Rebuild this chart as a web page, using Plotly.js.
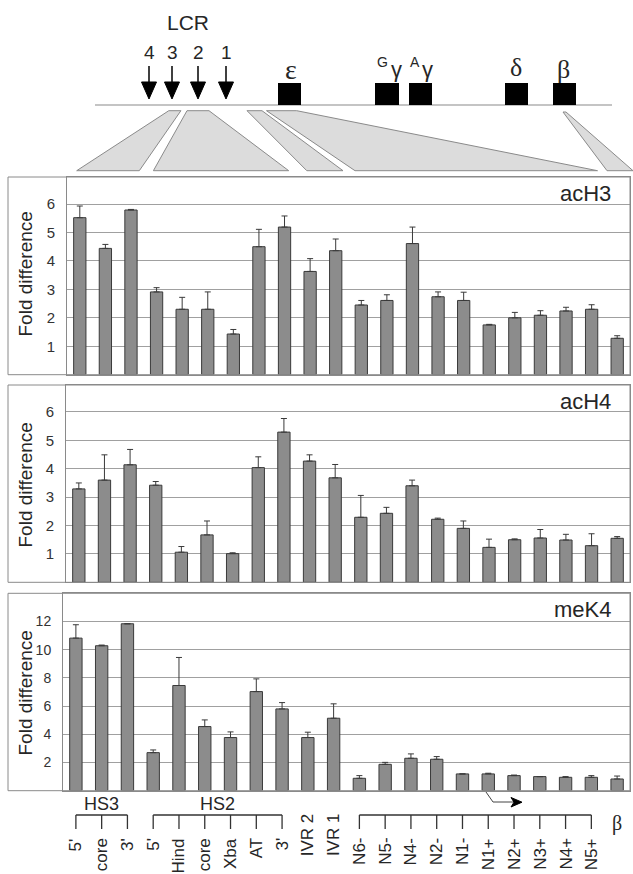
<!DOCTYPE html>
<html><head><meta charset="utf-8">
<script src="https://cdn.plot.ly/plotly-3.0.1.min.js"></script>
<style>html,body{margin:0;padding:0;background:#fff}</style>
</head><body>
<div id="chart" style="width:633px;height:874px"></div>
<script>
// ---------- data ----------
const categories = ["5'","core","3'","5'","Hind","core","Xba","AT","3'","IVR 2","IVR 1","N6-","N5-","N4-","N2-","N1-","N1+","N2+","N3+","N4+","N5+","β"];
const acH3    = [5.52,4.44,5.79,2.91,2.30,2.30,1.43,4.50,5.19,3.63,4.36,2.45,2.61,4.61,2.74,2.61,1.75,2.00,2.09,2.24,2.30,1.28];
const acH3err = [0.41,0.14,0.02,0.15,0.42,0.61,0.16,0.61,0.39,0.45,0.41,0.16,0.20,0.58,0.17,0.29,0.02,0.19,0.16,0.13,0.16,0.09];
const acH4    = [3.29,3.60,4.14,3.42,1.06,1.67,1.01,4.04,5.29,4.27,3.68,2.29,2.43,3.40,2.22,1.90,1.23,1.50,1.56,1.49,1.29,1.55];
const acH4err = [0.21,0.89,0.54,0.13,0.20,0.49,0.03,0.38,0.48,0.22,0.47,0.77,0.21,0.20,0.04,0.26,0.29,0.03,0.30,0.20,0.42,0.06];
const meK4    = [10.82,10.28,11.84,2.70,7.46,4.55,3.77,7.03,5.80,3.77,5.14,0.88,1.87,2.30,2.23,1.19,1.19,1.07,1.00,0.95,0.95,0.83];
const meK4err = [0.95,0.05,0.00,0.19,1.99,0.47,0.40,0.90,0.45,0.38,1.02,0.19,0.14,0.31,0.19,0.00,0.05,0.04,0.00,0.05,0.12,0.21];
const panelNames = ["acH3","acH4","meK4"];
const yTitle = "Fold difference";
const ticksSmall = [1,2,3,4,5,6];
const ticksLarge = [2,4,6,8,10,12];
const groups = [{name:"HS3", from:0, to:2},{name:"HS2", from:3, to:8},{name:"", from:11, to:20}];
const lcrSites = ["4","3","2","1"];

// ---------- helpers ----------
const W = 633, H = 874;
const px = x => x / W;
const py = y => 1 - y / H;
const idx = categories.map((_, i) => i);
const zeros = categories.map(() => 0);
const FONT = "Liberation Sans, Arial, sans-serif";
const SERIF = "Liberation Serif, Times New Roman, serif";
const TXT = "#262626";

function barTrace(vals, errs, xa, ya) {
  return {
    type: "bar", x: idx, y: vals, xaxis: xa, yaxis: ya,
    marker: {color: "#8c8c8c", line: {color: "#3a3a3a", width: 1}},
    error_y: {type: "data", symmetric: false, array: errs, arrayminus: zeros,
              color: "#3a3a3a", thickness: 1, width: 3},
    hoverinfo: "skip"
  };
}
const data = [
  barTrace(acH3, acH3err, "x", "y"),
  barTrace(acH4, acH4err, "x2", "y2"),
  barTrace(meK4, meK4err, "x3", "y3")
];

// panel pixel boxes [top, bottom, plotLeft, tickFontSize, titleCenterY]
const panels = [[177, 374.7, 67, 15, 274.5], [385, 582.3, 66, 15, 485.5], [593.3, 790.7, 63, 14, 693.5]];

function xax(p) {
  return {
    domain: [px(p[2]), px(630)], range: [-0.5, 21.5],
    showline: true, linecolor: "#8a8a8a", linewidth: 1, mirror: true,
    showgrid: false, zeroline: false, fixedrange: true,
    showticklabels: false, ticks: ""
  };
}
function yax(p, range, tv, anchor) {
  return {
    domain: [py(p[1]), py(p[0])], range: range, anchor: anchor,
    tickmode: "array", tickvals: tv,
    showline: true, linecolor: "#8a8a8a", linewidth: 1, mirror: true,
    showgrid: true, gridcolor: "#a0a0a0", gridwidth: 1, zeroline: false,
    ticks: "outside", ticklen: 8, tickcolor: "rgba(0,0,0,0)",
    tickfont: {family: FONT, size: p[3], color: "#333"},
    fixedrange: true
  };
}

const shapes = [];
const annotations = [];
function ann(o) {
  annotations.push(Object.assign({xref: "paper", yref: "paper", showarrow: false,
                                  xanchor: "center", yanchor: "middle"}, o));
}

// outer panel frames, panel labels, y titles
panels.forEach((p, k) => {
  shapes.push({type: "rect", xref: "paper", yref: "paper", x0: px(8), x1: px(630), y0: py(p[1]), y1: py(p[0]),
               line: {color: "#8a8a8a", width: 1}});
  ann({x: px(613), y: py(p[0] + 16), xanchor: "right", text: panelNames[k],
       font: {family: FONT, size: 22, color: TXT}});
  ann({x: px(25), y: py(p[4]), text: yTitle, textangle: -90,
       font: {family: FONT, size: 19, color: TXT}});
});

// ---------- genome diagram on top ----------
function poly(pts, fill, line) {
  const d = pts.map((q, i) => (i ? "L" : "M") + px(q[0]).toFixed(5) + "," + py(q[1]).toFixed(5)).join(" ") + " Z";
  shapes.push({type: "path", xref: "paper", yref: "paper", path: d, fillcolor: fill,
               line: {color: line, width: 1}, layer: "above"});
}
shapes.push({type: "line", xref: "paper", yref: "paper", x0: px(95), x1: px(612), y0: py(105), y1: py(105),
             line: {color: "#8a8a8a", width: 1.2}});
poly([[168.8,110.7],[180.9,110.7],[139.3,170.7],[76.7,170.7]], "#dcdcdc", "#8a8a8a");
poly([[187,110.7],[209,110.7],[288.7,170.7],[153.4,170.7]], "#dcdcdc", "#8a8a8a");
poly([[247,110.7],[262,110.7],[343,170.7],[306.8,170.7]], "#dcdcdc", "#8a8a8a");
poly([[266.5,110.7],[296.7,110.7],[597.5,170.7],[355,170.7]], "#dcdcdc", "#8a8a8a");
poly([[563,112],[566,112],[633,170.7],[607,170.7]], "#dcdcdc", "#8a8a8a");
const hsX = [149, 172, 198, 226];
hsX.forEach((x, i) => {
  shapes.push({type: "line", xref: "paper", yref: "paper", x0: px(x), x1: px(x), y0: py(66), y1: py(84),
               line: {color: "#000", width: 1.5}});
  poly([[x-7.5,82],[x+7.5,82],[x,99]], "#000", "#000");
  ann({x: px(x), y: py(52), text: lcrSites[i], font: {family: FONT, size: 19, color: TXT}});
});
ann({x: px(188), y: py(22), text: "LCR", font: {family: FONT, size: 21, color: TXT}});
[[278,301],[375,399],[409,432],[505,528],[553,576]].forEach(b => {
  shapes.push({type: "rect", xref: "paper", yref: "paper", x0: px(b[0]), x1: px(b[1]), y0: py(105), y1: py(83),
               fillcolor: "#000", line: {color: "#000", width: 0}});
});
ann({x: px(291), y: py(70), text: "ε", font: {family: SERIF, size: 28, color: TXT}});
ann({x: px(382), y: py(62), text: "G", font: {family: FONT, size: 14, color: TXT}});
ann({x: px(396), y: py(69), text: "γ", font: {family: FONT, size: 22, color: TXT}});
ann({x: px(415), y: py(62), text: "A", font: {family: FONT, size: 14, color: TXT}});
ann({x: px(427), y: py(69), text: "γ", font: {family: FONT, size: 22, color: TXT}});
ann({x: px(516), y: py(67), text: "δ", font: {family: SERIF, size: 26, color: TXT}});
ann({x: px(563), y: py(69), text: "β", font: {family: SERIF, size: 26, color: TXT}});

// ---------- brackets and category labels under the bottom panel ----------
const brY = 815, brTick = 829;
const inGroup = i => groups.some(g => i >= g.from && i <= g.to);
groups.forEach(g => {
  shapes.push({type: "line", xref: "x3", yref: "paper", x0: g.from, x1: g.to, y0: py(brY), y1: py(brY),
               line: {color: "#333", width: 1.3}});
  for (let i = g.from; i <= g.to; i++) {
    shapes.push({type: "line", xref: "x3", yref: "paper", x0: i, x1: i, y0: py(brY), y1: py(brTick),
                 line: {color: "#333", width: 1.3}});
  }
  if (g.name) ann({xref: "x3", x: (g.from + g.to) / 2, y: py(804), text: g.name,
                   font: {family: FONT, size: 18, color: TXT}});
});
categories.forEach((c, i) => {
  if (i === categories.length - 1) {
    ann({xref: "x3", x: i, y: py(823), text: c, font: {family: SERIF, size: 20, color: TXT}});
  } else {
    ann({xref: "x3", x: i, y: py(inGroup(i) ? 836 : 811), yanchor: "top", textangle: -90, text: c,
         font: {family: FONT, size: 17, color: TXT}});
  }
});
// transcription start arrow
shapes.push({type: "path", xref: "paper", yref: "paper",
             path: "M" + px(486) + "," + py(792) + " L" + px(493) + "," + py(802) + " L" + px(515) + "," + py(802),
             line: {color: "#444", width: 1}});
poly([[511,797.5],[522,802.2],[511,807],[514,802.2]], "#000", "#000");

const layout = {
  width: W, height: H, margin: {l: 0, r: 0, t: 0, b: 0},
  paper_bgcolor: "#fff", plot_bgcolor: "#fff",
  font: {family: FONT, color: TXT},
  showlegend: false, bargap: 0.52,
  xaxis: Object.assign(xax(panels[0]), {anchor: "y"}),
  xaxis2: Object.assign(xax(panels[1]), {anchor: "y2"}),
  xaxis3: Object.assign(xax(panels[2]), {anchor: "y3"}),
  yaxis: yax(panels[0], [0, 6.95], ticksSmall, "x"),
  yaxis2: yax(panels[1], [0, 6.95], ticksSmall, "x2"),
  yaxis3: yax(panels[2], [0, 14], ticksLarge, "x3"),
  shapes: shapes, annotations: annotations
};
Plotly.newPlot("chart", data, layout, {displayModeBar: false, staticPlot: true});
</script>
</body></html>
